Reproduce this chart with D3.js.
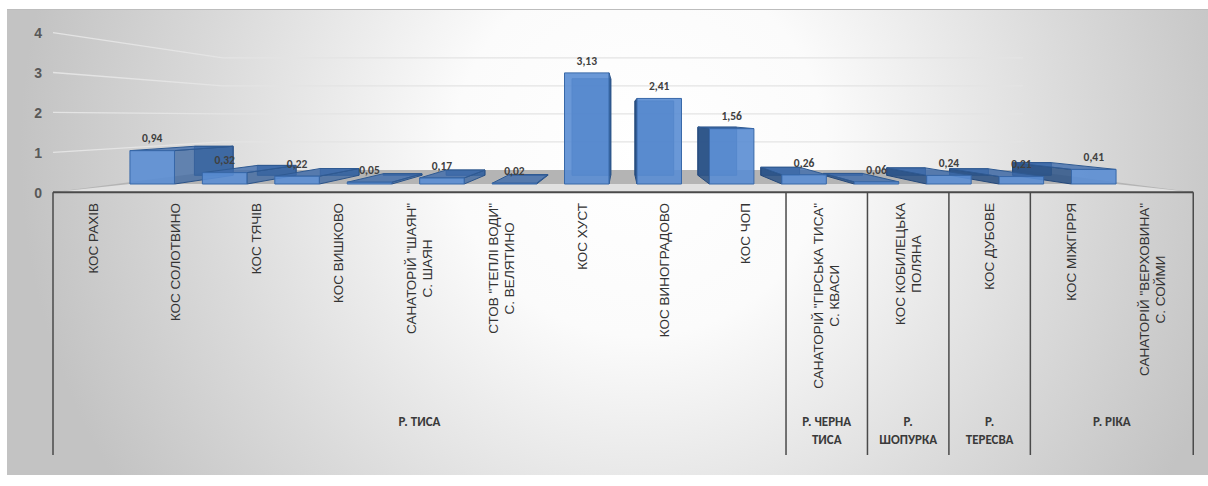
<!DOCTYPE html>
<html>
<head>
<meta charset="utf-8">
<script src="https://cdn.jsdelivr.net/npm/d3@7"></script>
<style>
  body { margin: 0; background: #fff; }
  svg { display: block; }
</style>
</head>
<body>
<svg id="chart" width="1208" height="486"></svg>
<script>
// Stations (wrapped into lines as they appear on the axis)
const categories = [
  ["КОС РАХІВ"],
  ["КОС СОЛОТВИНО"],
  ["КОС ТЯЧІВ"],
  ["КОС ВИШКОВО"],
  ['САНАТОРІЙ "ШАЯН"', "С. ШАЯН"],
  ['СТОВ "ТЕПЛІ ВОДИ"', "С. ВЕЛЯТИНО"],
  ["КОС ХУСТ"],
  ["КОС ВИНОГРАДОВО"],
  ["КОС ЧОП"],
  ['САНАТОРІЙ "ГІРСЬКА ТИСА"', "С. КВАСИ"],
  ["КОС КОБИЛЕЦЬКА", "ПОЛЯНА"],
  ["КОС ДУБОВЕ"],
  ["КОС МІЖГІРРЯ"],
  ['САНАТОРІЙ "ВЕРХОВИНА"', "С. СОЙМИ"]
];
const values = [0.94, 0.32, 0.22, 0.05, 0.17, 0.02, 3.13, 2.41, 1.56, 0.26, 0.06, 0.24, 0.21, 0.41];
const rivers = [["Р. ТИСА"], ["Р. ЧЕРНА", "ТИСА"], ["Р.", "ШОПУРКА"], ["Р.", "ТЕРЕСВА"], ["Р. РІКА"]];
const riverSpans = [9, 1, 1, 1, 2];
const yTicks = [0, 1, 2, 3, 4];

const svg = d3.select("#chart");
const n = categories.length;

// ---- 3D projection: everything is laid out on the bar front plane (depth 1)
// and scaled toward a vanishing point for other depths.
const VP = [622, 117.5];
const DEPTH = { axis: 1.1245, front: 1, back: 0.869, wall: 0.789 };

const x = d3.scaleBand().domain(d3.range(n)).range([116, 1130])
  .paddingInner(0.385).paddingOuter(0.1925);
const y = d3.scaleLinear().domain([0, 4]).range([184, 42]);

function P(px, v, s) {
  return [VP[0] + (px - VP[0]) * s, VP[1] + (y(v) - VP[1]) * s];
}
const X0 = x.range()[0], X1 = x.range()[1];

// ---- background
const defs = svg.append("defs");
const bg = defs.append("radialGradient").attr("id", "bg")
  .attr("gradientUnits", "userSpaceOnUse")
  .attr("cx", 640).attr("cy", 150).attr("r", 620);
bg.append("stop").attr("offset", 0).attr("stop-color", "#ffffff");
bg.append("stop").attr("offset", 0.3).attr("stop-color", "#fbfbfb");
bg.append("stop").attr("offset", 0.7).attr("stop-color", "#dadada");
bg.append("stop").attr("offset", 1).attr("stop-color", "#c3c3c3");

svg.append("rect").attr("x", 7).attr("y", 9).attr("width", 1201).attr("height", 466)
  .attr("fill", "url(#bg)");
svg.append("line").attr("x1", 7).attr("x2", 1208).attr("y1", 9.5).attr("y2", 9.5)
  .attr("stroke", "#bdbdbd").attr("stroke-width", 1);

const line = d3.line();

// ---- floor
const floorPts = [P(X0, 0, DEPTH.axis), P(X0, 0, DEPTH.wall), P(X1, 0, DEPTH.wall), P(X1, 0, DEPTH.axis)];
svg.append("path").attr("d", line(floorPts) + "Z").attr("fill", "#b4b4b4");
const bandPts = [P(X0, 0, DEPTH.axis), P(x(0), 0, DEPTH.front),
  P(x(n - 1) + x.bandwidth(), 0, DEPTH.front), P(X1, 0, DEPTH.axis)];
svg.append("path").attr("d", line(bandPts) + "Z").attr("fill", "#e0e0e0");

// ---- gridlines on the side wall and back wall
const grid = svg.append("g");
yTicks.filter(t => t > 0).forEach(t => {
  const pts = [P(X0, t, DEPTH.axis), P(X0, t, DEPTH.wall), P(X1, t, DEPTH.wall)];
  grid.append("path").attr("d", line(pts)).attr("fill", "none")
    .attr("stroke", "#e4e4e4").attr("stroke-width", 1.3);
});

// ---- value axis labels
svg.append("g").selectAll("text").data(yTicks).join("text")
  .attr("x", 42).attr("y", d => P(X0, d, DEPTH.axis)[1] + 2)
  .attr("text-anchor", "end").attr("dominant-baseline", "middle")
  .attr("font-family", "'Liberation Sans', Arial, sans-serif")
  .attr("font-weight", "bold").attr("font-size", 14).attr("fill", "#595959")
  .text(d => d);

// ---- bars as boxes
const order = d3.range(n).sort((a, b) => {
  const ca = Math.abs(x(a) + x.bandwidth() / 2 - VP[0]);
  const cb = Math.abs(x(b) + x.bandwidth() / 2 - VP[0]);
  return cb - ca;
});
const bars = svg.append("g");
order.forEach(i => {
  const v = values[i];
  const a = x(i), b = x(i) + x.bandwidth();
  const f = (px, vv) => P(px, vv, DEPTH.front);
  const k = (px, vv) => P(px, vv, DEPTH.back);
  const g = bars.append("g");
  const face = (pts, fill, op, stroke) => g.append("path")
    .attr("d", line(pts) + "Z").attr("fill", fill).attr("fill-opacity", op)
    .attr("stroke", stroke).attr("stroke-width", 1).attr("stroke-linejoin", "round");

  // back face
  face([k(a, 0), k(b, 0), k(b, v), k(a, v)], "#33609b", 0.85, "#2b5388");
  const leftVisible = a > VP[0];
  const rightVisible = b < VP[0];
  const leftPts = [f(a, 0), k(a, 0), k(a, v), f(a, v)];
  const rightPts = [f(b, 0), k(b, 0), k(b, v), f(b, v)];
  if (leftVisible) face(leftPts, "#2c5286", 0.85, "#24487a");
  if (rightVisible) face(rightPts, "#3a66a2", 0.75, "#2b5388");
  const topPts = [f(a, v), f(b, v), k(b, v), k(a, v)];
  if (y(v) > VP[1]) face(topPts, "#3f6cab", 0.8, "#2f5a92");
  face([f(a, 0), f(b, 0), f(b, v), f(a, v)], "#5a8dd3", 0.9, "#3868a8");
});

// ---- value labels
svg.append("g").selectAll("text").data(values).join("text")
  .attr("x", (d, i) => P(x(i) + x.bandwidth() / 2, d, DEPTH.front)[0])
  .attr("y", (d, i) => P(x(i) + x.bandwidth() / 2, d, DEPTH.front)[1] - 11)
  .attr("text-anchor", "middle").attr("dominant-baseline", "middle")
  .attr("font-family", "Carlito, 'Liberation Sans', Arial, sans-serif")
  .attr("font-weight", "bold").attr("font-size", 11.5).attr("fill", "#404040")
  .text(d => d.toFixed(2).replace(".", ","));

// ---- category axis (flat, in front of the floor)
const axY = P(X0, 0, DEPTH.axis)[1];
const xc = d3.scaleBand().domain(d3.range(n))
  .range([P(X0, 0, DEPTH.axis)[0], P(X1, 0, DEPTH.axis)[0]]);
const axis = svg.append("g");
axis.append("line").attr("x1", xc.range()[0]).attr("x2", xc.range()[1])
  .attr("y1", axY).attr("y2", axY).attr("stroke", "#4a4a4a").attr("stroke-width", 2);

// group boundaries
let acc = 0;
const bounds = [0];
riverSpans.forEach(s => { acc += s; bounds.push(acc); });
const edgeX = k => k < n ? xc(k) : xc.range()[1];
axis.selectAll("line.sep").data(bounds).join("line").attr("class", "sep")
  .attr("x1", d => edgeX(d)).attr("x2", d => edgeX(d))
  .attr("y1", axY).attr("y2", 455)
  .attr("stroke", "#4a4a4a").attr("stroke-width", 1.5);

// rotated station names
const catFont = "'Liberation Sans', Arial, sans-serif";
const catG = axis.append("g");
categories.forEach((lines, i) => {
  const cx = xc(i) + xc.bandwidth() / 2;
  const lh = 16;
  const t = catG.append("text")
    .attr("font-family", catFont).attr("font-size", 13.5).attr("fill", "#333333")
    .attr("text-anchor", "middle");
  const spans = lines.map((s, j) => t.append("tspan").text(s));
  const maxLen = d3.max(spans, sp => sp.node().getComputedTextLength());
  const cy = 203 + maxLen / 2;
  t.attr("transform", `translate(${cx},${cy}) rotate(-90)`);
  spans.forEach((sp, j) => {
    const off = (j - (lines.length - 1) / 2) * lh;
    sp.attr("x", 0).attr("y", off).attr("dy", "0.35em");
  });
});

// river group names
const grpG = axis.append("g");
rivers.forEach((lines, gi) => {
  const cx = (edgeX(bounds[gi]) + edgeX(bounds[gi + 1])) / 2;
  lines.forEach((s, j) => {
    grpG.append("text").attr("x", cx).attr("y", 423 + j * 18)
      .attr("text-anchor", "middle").attr("dominant-baseline", "middle")
      .attr("font-family", "Carlito, 'Liberation Sans', Arial, sans-serif")
      .attr("font-weight", "bold").attr("font-size", 13).attr("fill", "#3a3a3a")
      .text(s);
  });
});
</script>
</body>
</html>
